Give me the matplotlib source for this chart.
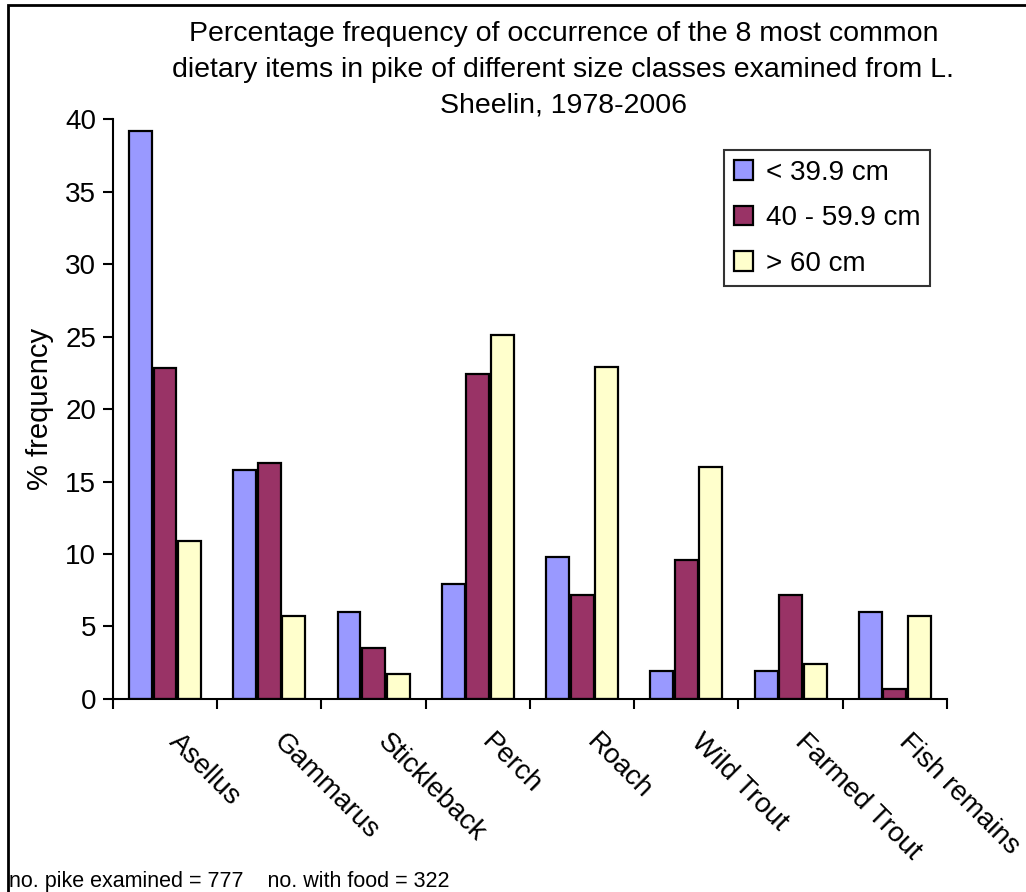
import matplotlib
matplotlib.use("Agg")
import matplotlib.pyplot as plt
from matplotlib.patches import Rectangle
import numpy as np

plt.rcParams["font.family"] = ["Liberation Sans", "DejaVu Sans"]

items = ["Asellus", "Gammarus", "Stickleback", "Perch", "Roach",
         "Wild Trout", "Farmed Trout", "Fish remains"]
size_classes = ["< 39.9 cm", "40 - 59.9 cm", "> 60 cm"]
small = [39.2, 15.8, 6.0, 7.9, 9.8, 1.9, 1.9, 6.0]
medium = [22.8, 16.3, 3.5, 22.4, 7.2, 9.6, 7.2, 0.7]
large = [10.9, 5.7, 1.7, 25.1, 22.9, 16.0, 2.4, 5.7]
colours = ["#9999FF", "#993366", "#FFFFCC"]

fs = 20

fig = plt.figure(figsize=(10.26, 8.92), dpi=100)
ax = fig.add_axes([0.110, 0.2164, 0.813, 0.650])

x = np.arange(len(items))
width = 0.22
step = 0.235
for i, (vals, lab) in enumerate(zip([small, medium, large], size_classes)):
    ax.bar(x + (i - 1) * step, vals, width, color=colours[i],
           edgecolor="black", linewidth=1.6, label=lab)

ax.set_xlim(-0.5, len(items) - 0.5)
ax.set_ylim(0, 40)
ax.set_yticks(range(0, 41, 5))
ax.set_xticks(np.arange(-0.5, len(items), 1.0))
ax.set_xticklabels([])
ax.tick_params(axis="both", direction="out", length=7, width=1.5,
               labelsize=fs)
ax.tick_params(axis="y", pad=5)
for side in ["top", "right"]:
    ax.spines[side].set_visible(False)
for side in ["left", "bottom"]:
    ax.spines[side].set_linewidth(1.5)

# category names, slanted down to the right under each group
for xi, name in zip(x, items):
    ax.annotate(name, xy=(xi, 0), xycoords=("data", "axes fraction"),
                xytext=(6, -28), textcoords="offset points",
                rotation=-45, rotation_mode="anchor",
                ha="left", va="center", fontsize=fs)

ax.set_ylabel("% frequency", fontsize=21, labelpad=8)

fig.text(0.549, 0.977,
         "Percentage frequency of occurrence of the 8 most common\n"
         "dietary items in pike of different size classes examined from L.\n"
         "Sheelin, 1978-2006",
         ha="center", va="top", fontsize=20.5, linespacing=1.5)

leg = ax.legend(loc="upper right", bbox_to_anchor=(0.98, 0.947),
                fontsize=fs, frameon=True, fancybox=False,
                edgecolor="black", handlelength=0.7, handleheight=0.7,
                handletextpad=0.45, labelspacing=0.7, borderpad=0.35,
                borderaxespad=0)
leg.get_frame().set_linewidth(1.5)

fig.text(0.009, 0.0056,
         "no. pike examined = 777    no. with food = 322",
         ha="left", va="baseline", fontsize=15.5)

fig.patches.append(Rectangle((8 / 1026, -0.1), 1.2, 1.1 - 5 / 892,
                             transform=fig.transFigure, fill=False,
                             edgecolor="black", linewidth=2))

fig.savefig("out.png", dpi=100)
